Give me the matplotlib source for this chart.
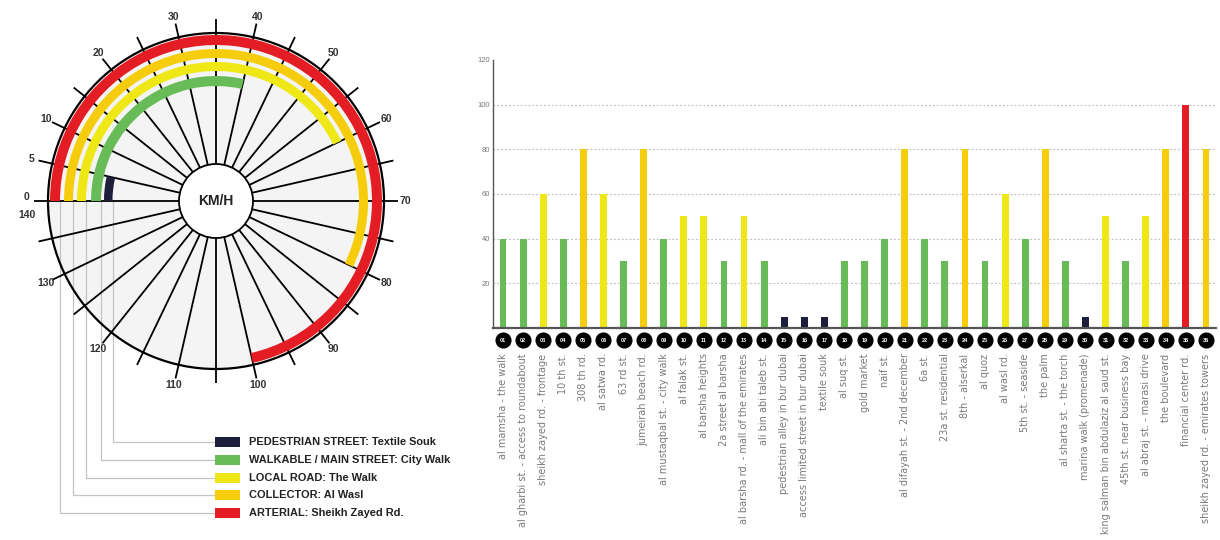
import matplotlib.pyplot as plt
import numpy as np
from matplotlib.patches import Wedge, Circle, Rectangle
from matplotlib.transforms import blended_transform_factory

# road classes shown on the gauge (speed limit in km/h)
road_types = ["PEDESTRIAN STREET: Textile Souk", "WALKABLE / MAIN STREET: City Walk",
              "LOCAL ROAD: The Walk", "COLLECTOR: Al Wasl", "ARTERIAL: Sheikh Zayed Rd."]
road_limits = [5, 40, 60, 80, 100]
road_colors = ["#1c1e3b", "#67bc58", "#efe816", "#f6cd0c", "#e41c24"]

gauge_labels = [0, 5, 10, 20, 30, 40, 50, 60, 70, 80, 90, 100, 110, 120, 130, 140]

# streets in the bar chart
streets = ["al mamsha - the walk", "al gharbi st. - access to roundabout", "sheikh zayed rd. - frontage",
           "10 th st.", "308 th rd.", "al satwa rd.", "63 rd st.", "jumeirah beach rd.",
           "al mustaqbal st. - city walk", "al falak st.", "al barsha heights", "2a street al barsha",
           "al barsha rd. - mall of the emirates", "ali bin abi taleb st.", "pedestrian alley in bur dubai",
           "access limited street in bur dubai", "textile souk", "al suq st.", "gold market", "naif st.",
           "al difayah st. - 2nd december", "6a st.", "23a st. residential", "8th - alserkal", "al quoz",
           "al wasl rd.", "5th st. - seaside", "the palm", "al sharta st. - the torch",
           "marina walk (promenade)", "king salman bin abdulaziz al saud st.", "45th st. near business bay",
           "al abraj st. - marasi drive", "the boulevard", "financial center rd.",
           "sheikh zayed rd. - emirates towers"]
speeds = [40, 40, 60, 40, 80, 60, 30, 80, 40, 50, 50, 30, 50, 30, 5, 5, 5, 30,
          30, 40, 80, 40, 30, 80, 30, 60, 40, 80, 30, 5, 50, 30, 50, 80, 100, 80]
street_class = [1, 1, 2, 1, 3, 2, 1, 3, 1, 2, 2, 1, 2, 1, 0, 0, 0, 1,
                1, 1, 3, 1, 1, 3, 1, 2, 1, 3, 1, 0, 2, 1, 2, 3, 4, 3]

plt.rcParams['font.family'] = ['Liberation Sans', 'DejaVu Sans']

fig = plt.figure(figsize=(12.2, 5.4), dpi=100)

# ---------------- gauge (units = pixels, centre at 0,0) ----------------
ax_g = fig.add_axes([0, 0, 440 / 1220, 1])
ax_g.set_xlim(-216, 224)
ax_g.set_ylim(-339, 201)
ax_g.axis('off')

def ang(v):
    return 180 - v * 360 / 140

R = 168
ax_g.add_patch(Circle((0, 0), R, facecolor='#f4f4f4', edgecolor='none', zorder=1))

for v in range(0, 140, 5):
    a = np.radians(ang(v))
    ax_g.plot([37 * np.cos(a), 182 * np.cos(a)], [37 * np.sin(a), 182 * np.sin(a)],
              color='black', lw=1.3, zorder=2, solid_capstyle='butt')

ring_outer = [112, 125, 139, 152, 166]
ring_w = [8.5, 10, 9, 9, 10]
for lim, col, ro, w in zip(road_limits, road_colors, ring_outer, ring_w):
    ax_g.add_patch(Wedge((0, 0), ro, ang(lim), 180, width=w, facecolor=col,
                         edgecolor='none', zorder=3))

ax_g.add_patch(Circle((0, 0), R, facecolor='none', edgecolor='black', lw=1.6, zorder=3))
ax_g.add_patch(Circle((0, 0), 37, facecolor='white', edgecolor='black', lw=1.3, zorder=4))
ax_g.text(0, 0, "KM/H", ha='center', va='center', fontsize=10, fontweight='bold', color='#222', zorder=5)

for v in gauge_labels:
    a = np.radians(ang(v))
    x, y = 189 * np.cos(a), 189 * np.sin(a)
    if v == 0:
        y += 4
    elif v == 140:
        y -= 14
    ax_g.text(x, y, str(v), ha='center', va='center', fontsize=7.5, fontweight='bold', color='#333')

# legend with leader lines
for i, (name, col, ro, w) in enumerate(zip(road_types, road_colors, ring_outer, ring_w)):
    yrow = 201 - (442 + 17.8 * i)
    xi = -(ro - w)
    ax_g.plot([xi, xi, -1], [0, yrow, yrow], color='#c4c4c4', lw=0.9, zorder=1)
    ax_g.add_patch(Rectangle((-1, yrow - 5), 25, 10, facecolor=col, edgecolor='none'))
    ax_g.text(33, yrow, name, ha='left', va='center', fontsize=7.9, fontweight='bold', color='#222')

# ---------------- bar chart ----------------
ax = fig.add_axes([493 / 1220, 212 / 540, 723 / 1220, 268 / 540])
x = np.arange(1, len(speeds) + 1)
ax.bar(x, speeds, width=0.34, color=[road_colors[c] for c in street_class], zorder=2)
ax.set_xlim(0.5, 36.5)
ax.set_ylim(0, 120)
ax.set_yticks([20, 40, 60, 80, 100, 120])
ax.tick_params(axis='y', length=0, labelsize=5.5, labelcolor='#777', pad=2)
ax.set_xticks([])
for g in [20, 40, 60, 80, 100]:
    ax.axhline(g, color='#b8b8c8', lw=0.8, ls=(0, (1.5, 2)), zorder=1)
for s in ['top', 'right']:
    ax.spines[s].set_visible(False)
ax.spines['left'].set_color('#555')
ax.spines['left'].set_linewidth(1)
ax.spines['bottom'].set_color('#555')
ax.spines['bottom'].set_linewidth(1.6)

tr = blended_transform_factory(ax.transData, ax.transAxes)
ax.scatter(x, [-0.045] * len(x), s=112, color='black', transform=tr, clip_on=False, zorder=3)
for i, name in zip(x, streets):
    ax.text(i, -0.045, f"{i:02d}", transform=tr, ha='center', va='center', fontsize=4,
            fontweight='bold', color='white', zorder=4)
    ax.text(i, -0.095, name, transform=tr, rotation=90, ha='center', va='top',
            fontsize=7.0, color='#7a7a7a', family=['DejaVu Sans'])

fig.savefig('out.png', dpi=100)
